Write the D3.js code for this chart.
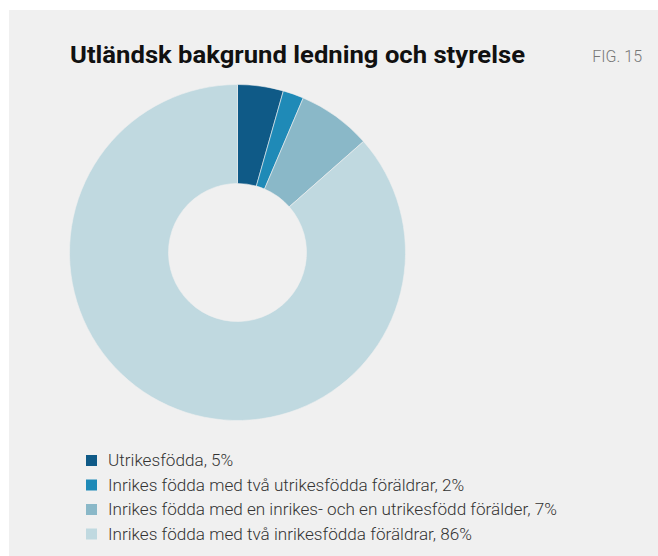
<!DOCTYPE html>
<html><head><meta charset="utf-8">
<script src="https://cdn.jsdelivr.net/npm/d3@7"></script>
<style>
html,body{margin:0;padding:0;background:#fff;}
svg{display:block;}
</style></head>
<body>
<svg id="chart" width="658" height="556"></svg>
<script>
const title = "Utländsk bakgrund ledning och styrelse";
const figLabel = "FIG. 15";
const categories = [
  "Utrikesfödda, 5%",
  "Inrikes födda med två utrikesfödda föräldrar, 2%",
  "Inrikes födda med en inrikes- och en utrikesfödd förälder, 7%",
  "Inrikes födda med två inrikesfödda föräldrar, 86%"
];
const values = [4.4, 2.0, 7.1, 86.5];
const colors = ["#0f5a87", "#1f8ab7", "#8ab8c8", "#c0d9e0"];

const svg = d3.select("#chart");
svg.append("rect").attr("x", 9).attr("y", 10).attr("width", 649).attr("height", 546).attr("fill", "#f0f0f0");

const font = "Roboto, 'DejaVu Sans', sans-serif";

// title
const t = svg.append("text").attr("x", 70).attr("y", 63)
  .attr("font-family", font).attr("font-weight", 700).attr("font-size", 23)
  .attr("fill", "#111").text(title);
const tw = t.node().getComputedTextLength();
t.attr("textLength", 455).attr("lengthAdjust", "spacingAndGlyphs");

svg.append("text").attr("x", 642).attr("y", 62).attr("text-anchor", "end")
  .attr("font-family", font).attr("font-weight", 300).attr("font-size", 16)
  .attr("fill", "#777").text(figLabel);

// donut
const cx = 237.5, cy = 252.5, rOuter = 168, rInner = 69;
const pie = d3.pie().sort(null).value(d => d);
const arc = d3.arc().innerRadius(rInner).outerRadius(rOuter);
const g = svg.append("g").attr("transform", `translate(${cx},${cy})`);
g.selectAll("path").data(pie(values)).join("path")
  .attr("d", arc)
  .attr("fill", (d, i) => colors[i])
  .attr("stroke", "#f0f0f0").attr("stroke-width", 0.6);

// legend
const color = d3.scaleOrdinal().domain(categories).range(colors);
const ly = d3.scalePoint().domain(categories).range([460.5, 534]);
const lg = svg.append("g");
const rows = lg.selectAll("g").data(categories).join("g")
  .attr("transform", d => `translate(86,${ly(d)})`);
rows.append("rect").attr("x", 0).attr("y", -5.5).attr("width", 11).attr("height", 11)
  .attr("fill", d => color(d));
const texts = rows.append("text").attr("x", 22).attr("y", 5.5)
  .attr("font-family", font).attr("font-weight", 300).attr("font-size", 15.5)
  .attr("fill", "#333").text(d => d);
// fit the longest line to the reference width
const longest = d3.max(texts.nodes(), n => n.getComputedTextLength());
const fs = 15.5 * 449 / longest;
texts.attr("font-size", fs);
</script>
</body></html>
